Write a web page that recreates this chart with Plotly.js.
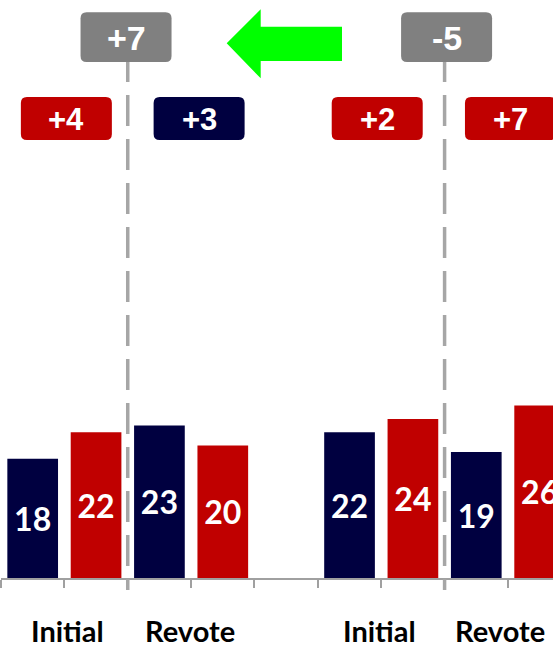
<!DOCTYPE html>
<html><head><meta charset="utf-8">
<script src="https://cdn.plot.ly/plotly-3.0.1.min.js"></script>
<style>html,body{margin:0;padding:0;background:#fff}</style>
</head><body>
<div id="chart" style="width:553px;height:650px"></div>
<script>
// ---- data ----
const rounds = ["Initial", "Revote", "Initial", "Revote"];
const demValues = [18, 23, 22, 19];
const repValues = [22, 20, 24, 26];

// ---- style ----
const NAVY = '#000040', RED = '#C00000', GRAY = '#808080', DASH = '#A6A6A6', GREEN = '#00FF00';
const W = 553, H = 650, ML = 1, MR = 0, MT = 0, MB = 72;
const PW = W - ML - MR, PH = H - MT - MB;
const SLOT = 63.37, PXPERUNIT = 6.63;
const xRange = [-0.5, -0.5 + PW / SLOT];
const yRange = [0, PH / PXPERUNIT];

// category slots (with an empty spacer between the two blocks)
const slotKeys = [], demKeys = [], repKeys = [];
rounds.forEach((r, i) => {
  const blk = i < 2 ? 'A' : 'B';
  const d = blk + ' ' + r + ' D', p = blk + ' ' + r + ' R';
  demKeys.push(d); repKeys.push(p);
  slotKeys.push(d, p);
  if (i === 1) slotKeys.push('gap');
});
const idx = k => slotKeys.indexOf(k);
const catPx = u => ML + (u - xRange[0]) * SLOT;
const X = px => (px - ML) / PW;
const Y = py => (MT + PH - py) / PH;

function roundRect(x0, x1, y0, y1, r, color) {
  const p = `M ${X(x0 + r)},${Y(y0)} L ${X(x1 - r)},${Y(y0)} Q ${X(x1)},${Y(y0)} ${X(x1)},${Y(y0 + r)} ` +
    `L ${X(x1)},${Y(y1 - r)} Q ${X(x1)},${Y(y1)} ${X(x1 - r)},${Y(y1)} L ${X(x0 + r)},${Y(y1)} ` +
    `Q ${X(x0)},${Y(y1)} ${X(x0)},${Y(y1 - r)} L ${X(x0)},${Y(y0 + r)} Q ${X(x0)},${Y(y0)} ${X(x0 + r)},${Y(y0)} Z`;
  return {type: 'path', xref: 'paper', yref: 'paper', path: p, fillcolor: color, line: {width: 0}};
}

const shapes = [], annotations = [];
const badgeFont = {family: 'Liberation Sans, Arial, sans-serif', color: '#FFFFFF', weight: 700};

// swing boxes + dashed separators
const swingNudge = [-1.7, 2];
[0, 2].forEach((i, n) => {
  const u = (idx(repKeys[i]) + idx(demKeys[i + 1])) / 2;
  const cx = catPx(u);
  shapes.push({type: 'line', xref: 'paper', yref: 'paper', x0: X(cx), x1: X(cx), y0: Y(51), y1: Y(590),
    line: {color: DASH, width: 3.5, dash: '31px,13px'}});
  const swing = (demValues[i + 1] - repValues[i + 1]) - (demValues[i] - repValues[i]);
  const bx = cx + swingNudge[n];
  shapes.push(roundRect(bx - 45.5, bx + 45.5, 12.3, 62, 6, GRAY));
  annotations.push({xref: 'paper', yref: 'paper', x: X(bx), y: Y(37.5), xanchor: 'center', yanchor: 'middle',
    text: (swing > 0 ? '+' : '') + swing, showarrow: false, font: Object.assign({size: 34}, badgeFont)});
});

// margin boxes
const marginNudge = [2, 8, -4, 2.5];
rounds.forEach((r, i) => {
  const u = (idx(demKeys[i]) + idx(repKeys[i])) / 2;
  const bx = catPx(u) + marginNudge[i];
  const m = repValues[i] - demValues[i];
  shapes.push(roundRect(bx - 45.5, bx + 45.5, 97, 140, 6, m > 0 ? RED : NAVY));
  annotations.push({xref: 'paper', yref: 'paper', x: X(bx), y: Y(119.5), xanchor: 'center', yanchor: 'middle',
    text: '+' + Math.abs(m), showarrow: false, font: Object.assign({size: 31}, badgeFont)});
});

// round labels
const labelNudge = [3.6, -1, -2, -8];
rounds.forEach((r, i) => {
  const u = (idx(demKeys[i]) + idx(repKeys[i])) / 2;
  annotations.push({xref: 'paper', yref: 'paper', x: X(catPx(u) + labelNudge[i]), y: Y(630.5),
    xanchor: 'center', yanchor: 'middle', text: r, showarrow: false, borderpad: 0,
    font: {family: 'Lato, sans-serif', size: 29, color: '#000000', weight: 700}});
});

// green arrow
const ap = `M ${X(226.7)},${Y(43.3)} L ${X(260.7)},${Y(9.3)} L ${X(260.7)},${Y(26.7)} L ${X(342)},${Y(26.7)} ` +
  `L ${X(342)},${Y(61)} L ${X(260.7)},${Y(61)} L ${X(260.7)},${Y(78.3)} Z`;
shapes.push({type: 'path', xref: 'paper', yref: 'paper', path: ap, fillcolor: GREEN, line: {width: 0}});

const barText = {family: 'Lato, sans-serif', size: 32, color: '#FFFFFF', weight: 700};
const traces = [
  {type: 'bar', x: demKeys, y: demValues, text: demValues.map(String), marker: {color: NAVY},
   width: 0.8, textposition: 'inside', insidetextanchor: 'middle', textangle: 0,
   insidetextfont: barText, constraintext: 'none', hoverinfo: 'skip', cliponaxis: true},
  {type: 'bar', x: repKeys, y: repValues, text: repValues.map(String), marker: {color: RED},
   width: 0.8, textposition: 'inside', insidetextanchor: 'middle', textangle: 0,
   insidetextfont: barText, constraintext: 'none', hoverinfo: 'skip', cliponaxis: true}
];

const layout = {
  width: W, height: H, margin: {l: ML, r: MR, t: MT, b: MB, pad: 0},
  paper_bgcolor: '#FFFFFF', plot_bgcolor: '#FFFFFF',
  showlegend: false, barmode: 'overlay',
  xaxis: {type: 'category', categoryorder: 'array', categoryarray: slotKeys, range: xRange,
    showticklabels: false, ticks: 'outside', tickson: 'boundaries', ticklen: 8, tickwidth: 2,
    tickcolor: '#A0A0A0', showline: true, linecolor: '#A0A0A0', linewidth: 2,
    showgrid: false, zeroline: false, fixedrange: true},
  yaxis: {range: yRange, visible: false, showgrid: false, zeroline: false, fixedrange: true},
  shapes: shapes, annotations: annotations
};

Plotly.newPlot('chart', traces, layout, {staticPlot: true, displayModeBar: false});
</script>
</body></html>
